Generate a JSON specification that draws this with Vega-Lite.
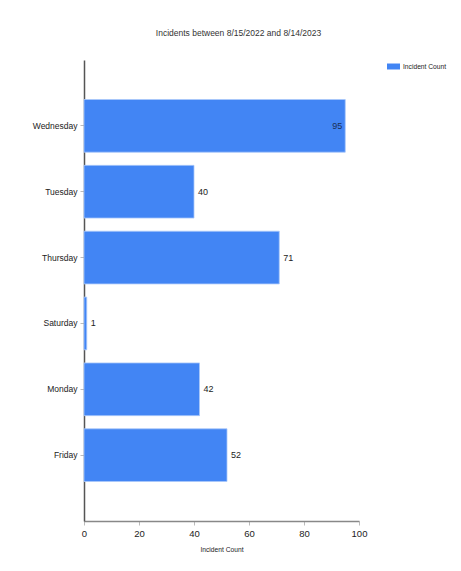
{
  "$schema": "https://vega.github.io/schema/vega-lite/v6.json",
  "autosize": "none",
  "width": 275,
  "height": 461,
  "padding": {"left": 84, "top": 60, "right": 102, "bottom": 50},
  "background": "white",
  "title": {
    "text": "Incidents between 8/15/2022 and 8/14/2023",
    "font": "Liberation Sans",
    "fontSize": 8.5,
    "fontWeight": "normal",
    "color": "#333333",
    "anchor": "middle",
    "dx": 17,
    "offset": 23
  },
  "config": {
    "view": {"stroke": null},
    "font": "Liberation Sans"
  },
  "data": {
    "values": [
      {"Day": "Wednesday", "Count": 95},
      {"Day": "Tuesday", "Count": 40},
      {"Day": "Thursday", "Count": 71},
      {"Day": "Saturday", "Count": 1},
      {"Day": "Monday", "Count": 42},
      {"Day": "Friday", "Count": 52}
    ]
  },
  "encoding": {
    "y": {
      "field": "Day",
      "type": "nominal",
      "sort": "descending",
      "scale": {"paddingInner": 0.2, "paddingOuter": 0.6},
      "axis": {
        "title": null,
        "labelFont": "Liberation Sans",
        "labelFontSize": 8.5,
        "labelColor": "#222222",
        "labelPadding": 3,
        "tickSize": 4,
        "tickColor": "#bbbbbb",
        "domainColor": "#555555",
        "domainWidth": 1.5,
        "grid": false
      }
    },
    "x": {
      "field": "Count",
      "type": "quantitative",
      "scale": {"domain": [0, 100]},
      "axis": {
        "title": "Incident Count",
        "titleFont": "Liberation Sans",
        "titleFontSize": 6.7,
        "titleFontWeight": "normal",
        "titleColor": "#222222",
        "titlePadding": 9,
        "values": [0, 20, 40, 60, 80, 100],
        "labelFlush": false,
        "labelBound": false,
        "labelFont": "Liberation Sans",
        "labelFontSize": 9.5,
        "labelColor": "#222222",
        "labelPadding": 3,
        "tickSize": 4,
        "tickColor": "#bbbbbb",
        "domainColor": "#888888",
        "domainWidth": 1.5,
        "grid": false
      }
    }
  },
  "layer": [
    {
      "mark": {"type": "bar", "stroke": "#a9c8fa", "strokeWidth": 0.8},
      "encoding": {
        "color": {
          "datum": "Incident Count",
          "type": "nominal",
          "scale": {"range": ["#4285F4"]},
          "legend": {
            "title": null,
            "orient": "right",
            "offset": 28,
            "labelFont": "Liberation Sans",
            "labelFontSize": 6.7,
            "labelColor": "#222222",
            "labelOffset": 3,
            "symbolType": "M-1,-0.46H1V0.46H-1Z",
            "symbolSize": 169,
            "symbolStrokeWidth": 0,
            "padding": 0
          }
        }
      }
    },
    {
      "transform": [{"filter": "datum.Count < 90"}],
      "mark": {"type": "text", "align": "left", "baseline": "middle", "dx": 4, "fontSize": 9, "color": "#222222", "font": "Liberation Sans"},
      "encoding": {"text": {"field": "Count", "type": "quantitative"}}
    },
    {
      "transform": [{"filter": "datum.Count >= 90"}],
      "mark": {"type": "text", "align": "right", "baseline": "middle", "dx": -3, "fontSize": 9, "color": "#1a2f55", "font": "Liberation Sans"},
      "encoding": {"text": {"field": "Count", "type": "quantitative"}}
    }
  ]
}
